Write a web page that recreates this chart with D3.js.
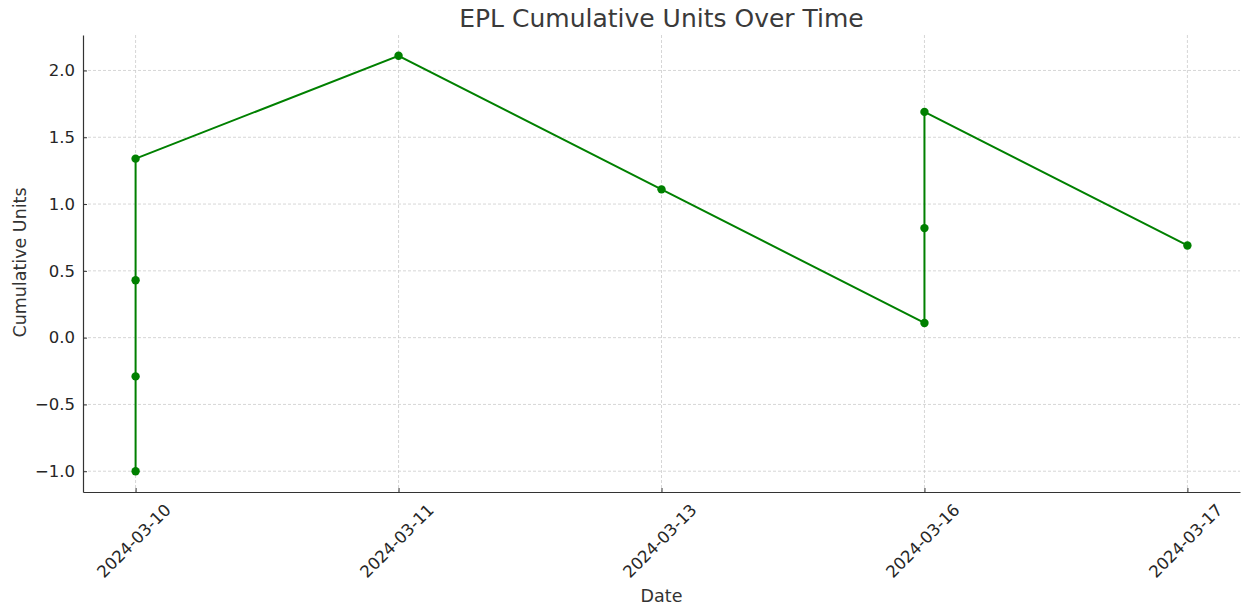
<!DOCTYPE html>
<html>
<head>
<meta charset="utf-8">
<script src="https://cdn.jsdelivr.net/npm/d3@7"></script>
<style>
  body { margin: 0; background: #fff; }
  text { font-family: "DejaVu Sans", sans-serif; fill: #262626; }
</style>
</head>
<body>
<div id="chart"></div>
<script>
// categorical date positions
var dates = ["2024-03-10", "2024-03-11", "2024-03-13", "2024-03-16", "2024-03-17"];

// each bet in order: date and running total
var pointDates = ["2024-03-10", "2024-03-10", "2024-03-10", "2024-03-10", "2024-03-11",
                  "2024-03-13", "2024-03-16", "2024-03-16", "2024-03-16", "2024-03-17"];
var cumUnits = [-1.0, -0.29, 0.43, 1.34, 2.11, 1.11, 0.11, 0.82, 1.69, 0.69];

var yTicks = [-1.0, -0.5, 0.0, 0.5, 1.0, 1.5, 2.0];

var W = 1243, H = 609;
var margin = {top: 35, right: 3, bottom: 117, left: 83},
    width = W - margin.left - margin.right,
    height = H - margin.top - margin.bottom;

var data = pointDates.map(function(d, i) { return {date: d, v: cumUnits[i]}; });

var x = d3.scalePoint()
    .domain(dates)
    .range([0, width])
    .padding(0.2);

var ext = d3.extent(cumUnits), pad = (ext[1] - ext[0]) * 0.05;
var y = d3.scaleLinear()
    .domain([ext[0] - pad, ext[1] + pad])
    .range([height, 0]);

var svg = d3.select("#chart").append("svg")
    .attr("width", W)
    .attr("height", H);

var g = svg.append("g")
    .attr("transform", "translate(" + margin.left + "," + margin.top + ")");

// grid
g.append("g").selectAll("line")
    .data(dates).enter().append("line")
    .attr("x1", function(d) { return x(d); })
    .attr("x2", function(d) { return x(d); })
    .attr("y1", 0).attr("y2", height)
    .attr("stroke", "#cccccc").attr("stroke-width", 0.8)
    .attr("stroke-dasharray", "3,2");

g.append("g").selectAll("line")
    .data(yTicks).enter().append("line")
    .attr("x1", 0).attr("x2", width)
    .attr("y1", function(d) { return y(d); })
    .attr("y2", function(d) { return y(d); })
    .attr("stroke", "#cccccc").attr("stroke-width", 0.8)
    .attr("stroke-dasharray", "3,2");

// axes, ticks pointing inward
var xAxis = g.append("g")
    .attr("transform", "translate(0," + height + ")")
    .call(d3.axisBottom(x).tickSizeInner(-4).tickSizeOuter(0));

xAxis.selectAll("text")
    .style("font-size", "16.5px")
    .attr("text-anchor", "middle")
    .attr("dy", null)
    .attr("x", 0).attr("y", 0)
    .attr("dominant-baseline", "central")
    .attr("transform", "translate(-2,49) rotate(-45)");

var yAxis = g.append("g")
    .call(d3.axisLeft(y).tickValues(yTicks).tickSizeInner(-4).tickSizeOuter(0).tickPadding(8)
        .tickFormat(function(d) { return d3.format(".1f")(d).replace("-", "\u2212"); }));

yAxis.selectAll("text").style("font-size", "16.5px");

[xAxis, yAxis].forEach(function(a) {
    a.select(".domain").attr("stroke", "#333").attr("stroke-width", 1.2);
    a.selectAll(".tick line").attr("stroke", "#333");
});

// line
var line = d3.line()
    .x(function(d) { return x(d.date); })
    .y(function(d) { return y(d.v); });

g.append("path")
    .datum(data)
    .attr("fill", "none")
    .attr("stroke", "green")
    .attr("stroke-width", 2)
    .attr("d", line);

g.selectAll(".dot")
    .data(data).enter().append("circle")
    .attr("class", "dot")
    .attr("cx", function(d) { return x(d.date); })
    .attr("cy", function(d) { return y(d.v); })
    .attr("r", 4.2)
    .attr("fill", "green");

// labels
svg.append("text")
    .attr("x", margin.left + width / 2)
    .attr("y", 27)
    .attr("text-anchor", "middle")
    .style("font-size", "25px")
    .style("fill", "#3a3a3a")
    .text("EPL Cumulative Units Over Time");

svg.append("text")
    .attr("x", margin.left + width / 2)
    .attr("y", 602)
    .attr("text-anchor", "middle")
    .style("font-size", "17.5px")
    .style("fill", "#333")
    .text("Date");

svg.append("text")
    .attr("transform", "translate(26," + (margin.top + height / 2 - 1) + ") rotate(-90)")
    .attr("text-anchor", "middle")
    .style("font-size", "17.5px")
    .style("fill", "#333")
    .text("Cumulative Units");
</script>
</body>
</html>
